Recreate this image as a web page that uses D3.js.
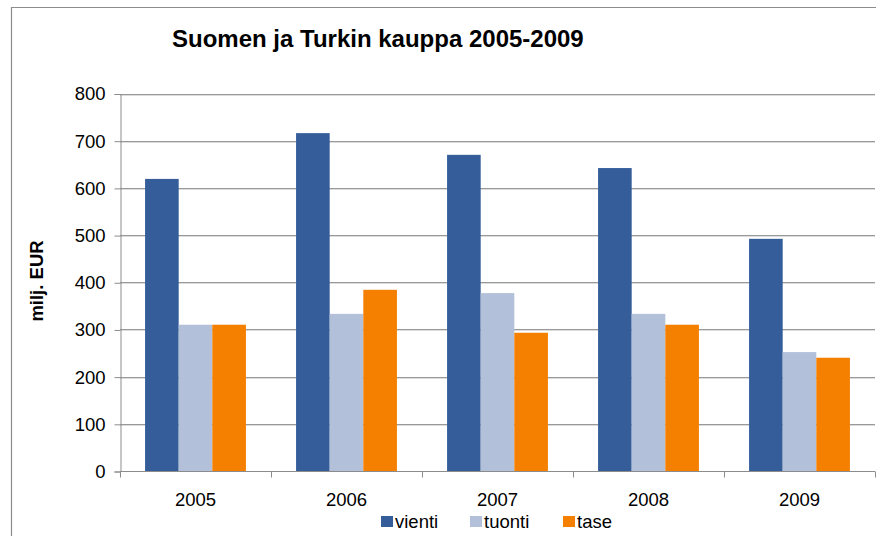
<!DOCTYPE html>
<html>
<head>
<meta charset="utf-8">
<script src="https://cdn.jsdelivr.net/npm/d3@7"></script>
<style>
  html, body { margin: 0; padding: 0; background: #fff; }
  svg { display: block; }
  text { font-family: "Liberation Sans", Arial, sans-serif; }
</style>
</head>
<body>
<svg id="chart" width="876" height="536"></svg>
<script>
const years = ["2005", "2006", "2007", "2008", "2009"];
const seriesNames = ["vienti", "tuonti", "tase"];
const vienti = [619, 716, 670, 642, 492];
const tuonti = [310, 333, 377, 333, 252];
const tase = [310, 384, 293, 310, 240];
const yTicks = [0, 100, 200, 300, 400, 500, 600, 700, 800];
const colors = ["#345D9A", "#B2C1D9", "#F58000"];

(function () {
const seriesValues = [vienti, tuonti, tase];
const svg = d3.select("#chart");

// frame
svg.append("path")
  .attr("d", "M11.5,540 L11.5,7.5 L880,7.5")
  .attr("fill", "none").attr("stroke", "#8c8c8c").attr("stroke-width", 1.2);

const pLeft = 120, pRight = 875, pTop = 93.5, pBottom = 471;
const x = d3.scaleBand().domain(years).range([pLeft, pRight]).padding(0);
const x1 = d3.scaleBand().domain(seriesNames)
  .range([x.bandwidth() * 0.166, x.bandwidth() * 0.834]).padding(0);
const y = d3.scaleLinear().domain([0, 800]).range([pBottom, pTop]);

// gridlines
const grid = svg.append("g");
yTicks.filter(t => t > 0).forEach(t => {
  grid.append("line").attr("x1", pLeft).attr("x2", pRight)
    .attr("y1", Math.round(y(t)) + 1.5).attr("y2", Math.round(y(t)) + 1.5)
    .attr("stroke", "#dcdcdc").attr("stroke-width", 1);
  grid.append("line").attr("x1", pLeft).attr("x2", pRight)
    .attr("y1", Math.round(y(t)) + 0.5).attr("y2", Math.round(y(t)) + 0.5)
    .attr("stroke", "#999").attr("stroke-width", 1);
});

// bars
const g = svg.append("g");
years.forEach((yr, i) => {
  seriesNames.forEach((s, j) => {
    const v = seriesValues[j][i];
    g.append("rect")
      .attr("x", x(yr) + x1(s))
      .attr("y", y(v))
      .attr("width", x1.bandwidth())
      .attr("height", y(0) - y(v))
      .attr("fill", colors[j]);
  });
});

// y axis
const yAxis = d3.axisLeft(y).tickValues(yTicks).tickSize(6).tickPadding(9);
const ya = svg.append("g").attr("transform", `translate(${pLeft + 0.5},0.5)`).call(yAxis);
ya.select(".domain").attr("stroke", "#8c8c8c");
ya.selectAll(".tick line").attr("stroke", "#8c8c8c");
ya.selectAll(".tick text").attr("font-size", 18.5).attr("fill", "#000")
  .attr("font-family", "Liberation Sans, Arial, sans-serif");

// x axis
const xa = svg.append("g").attr("transform", `translate(0,${pBottom + 0.5})`);
xa.append("line").attr("x1", pLeft).attr("x2", pRight).attr("stroke", "#8c8c8c");
const boundaries = years.map(d => x(d)).concat([pRight]);
xa.selectAll("line.tk").data(boundaries).enter().append("line")
  .attr("class", "tk")
  .attr("x1", d => Math.round(d) + 0.5).attr("x2", d => Math.round(d) + 0.5)
  .attr("y1", 0).attr("y2", 6).attr("stroke", "#8c8c8c");
xa.selectAll("text").data(years).enter().append("text")
  .attr("x", d => x(d) + x.bandwidth() / 2)
  .attr("y", 34.5)
  .attr("text-anchor", "middle")
  .attr("font-size", 18.5)
  .attr("fill", "#000")
  .text(d => d);

// title
svg.append("text").attr("x", 172).attr("y", 47)
  .attr("text-anchor", "start").attr("font-size", 24).attr("font-weight", "bold")
  .text("Suomen ja Turkin kauppa 2005-2009");

// y label
svg.append("text")
  .attr("transform", "translate(43,281) rotate(-90)")
  .attr("text-anchor", "middle").attr("font-size", 18.5).attr("font-weight", "bold")
  .text("milj. EUR");

// legend
const legendX = [381, 470, 563];
const lg = svg.append("g");
seriesNames.forEach((s, j) => {
  lg.append("rect").attr("x", legendX[j]).attr("y", 516).attr("width", 12).attr("height", 11)
    .attr("fill", colors[j]);
  lg.append("text").attr("x", legendX[j] + 14).attr("y", 527.5)
    .attr("font-size", 18.5).attr("fill", "#000").text(s);
});
})();
</script>
</body>
</html>
